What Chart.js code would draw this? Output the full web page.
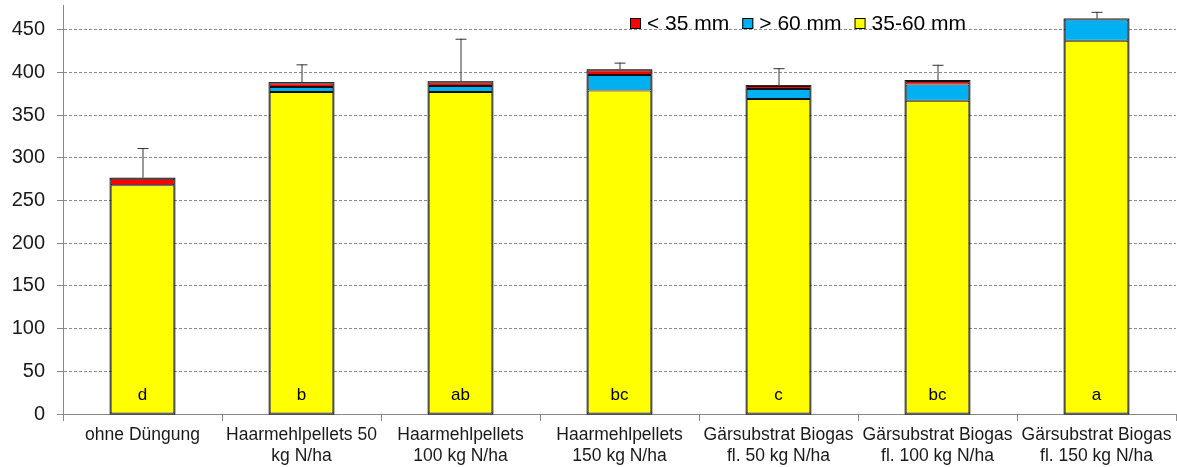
<!DOCTYPE html>
<html>
<head>
<meta charset="utf-8">
<script src="https://cdn.jsdelivr.net/npm/chart.js@4"></script>
<style>
  html, body { margin: 0; padding: 0; background: #fff; }
  #wrap { width: 1177px; height: 467px; position: relative; }
</style>
</head>
<body>
<div id="wrap"><canvas id="yieldChart"></canvas></div>
<script>
// categories (two-line labels)
const categories = [
  ['ohne Düngung'],
  ['Haarmehlpellets 50', 'kg N/ha'],
  ['Haarmehlpellets', '100 kg N/ha'],
  ['Haarmehlpellets', '150 kg N/ha'],
  ['Gärsubstrat Biogas', 'fl. 50 kg N/ha'],
  ['Gärsubstrat Biogas', 'fl. 100 kg N/ha'],
  ['Gärsubstrat Biogas', 'fl. 150 kg N/ha']
];
const mid35to60 = [268, 377, 377, 379, 369, 367, 437];
const over60 = [0, 6, 7, 18, 11.5, 19, 25];
const under35 = [7.5, 4.5, 4.5, 5.5, 3.5, 4, 0];
const errUp = [36, 22, 51, 9, 21, 19, 9];
const sigLetters = ['d', 'b', 'ab', 'bc', 'c', 'bc', 'a'];
const yTicks = [0, 50, 100, 150, 200, 250, 300, 350, 400, 450];

const FONT = "'Liberation Sans', Arial, sans-serif";

// outline of whole stack, error bars, letters inside bars
const extrasPlugin = {
  id: 'extras',
  afterDatasetsDraw(chart) {
    const ctx = chart.ctx;
    const y = chart.scales.y;
    const meta = chart.getDatasetMeta(0);
    ctx.save();
    meta.data.forEach((bar, i) => {
      const total = mid35to60[i] + over60[i] + under35[i];
      const yTop = y.getPixelForValue(total);
      const yZero = y.getPixelForValue(0);
      const half = bar.width / 2;

      ctx.strokeStyle = '#111';
      ctx.lineWidth = 1;
      ctx.strokeRect(bar.x - half - 0.5, yTop - 0.5, bar.width + 1, yZero - yTop + 0.5);

      const yErr = y.getPixelForValue(total + errUp[i]);
      ctx.strokeStyle = '#333';
      ctx.lineWidth = 1;
      ctx.beginPath();
      ctx.moveTo(bar.x + 0.5, yTop - 1);
      ctx.lineTo(bar.x + 0.5, yErr);
      ctx.moveTo(bar.x - 5, yErr + 0.5);
      ctx.lineTo(bar.x + 6, yErr + 0.5);
      ctx.stroke();

      ctx.fillStyle = '#000';
      ctx.font = '17px ' + FONT;
      ctx.textAlign = 'center';
      ctx.textBaseline = 'middle';
      ctx.fillText(sigLetters[i], bar.x, yZero - 19);
    });
    ctx.restore();
  }
};

// legend drawn inside the plot, top right
const legendPlugin = {
  id: 'innerLegend',
  afterDraw(chart) {
    const ctx = chart.ctx;
    const items = chart.data.datasets.slice().reverse();
    let x = chart.chartArea.left + 567;
    const yc = 24;
    ctx.save();
    ctx.font = '21px ' + FONT;
    ctx.textBaseline = 'middle';
    ctx.textAlign = 'left';
    items.forEach(ds => {
      ctx.fillStyle = ds.backgroundColor;
      ctx.fillRect(x, yc - 6, 11, 11);
      ctx.strokeStyle = '#000';
      ctx.lineWidth = 1;
      ctx.strokeRect(x + 0.5, yc - 5.5, 10, 10);
      x += 17;
      ctx.fillStyle = '#000';
      ctx.fillText(ds.label, x, yc);
      x += ctx.measureText(ds.label).width + 13;
    });
    ctx.restore();
  }
};

const barStyle = { borderColor: '#111', borderWidth: 1, borderSkipped: false, barPercentage: 0.4, categoryPercentage: 1 };

new Chart(document.getElementById('yieldChart'), {
  type: 'bar',
  data: {
    labels: categories,
    datasets: [
      Object.assign({ label: '35-60 mm', data: mid35to60, backgroundColor: '#FFFF00' }, barStyle),
      Object.assign({ label: '> 60 mm', data: over60, backgroundColor: '#00B0F0' }, barStyle),
      Object.assign({ label: '< 35 mm', data: under35, backgroundColor: '#FF0000' }, barStyle)
    ]
  },
  options: {
    responsive: true,
    maintainAspectRatio: false,
    animation: false,
    layout: { padding: { top: 5, right: 1, left: 0, bottom: 0 } },
    plugins: {
      legend: { display: false },
      tooltip: { enabled: false }
    },
    scales: {
      x: {
        stacked: true,
        grid: { drawOnChartArea: false, offset: true, tickLength: 7, color: '#888' },
        border: { color: '#888', width: 1 },
        ticks: {
          color: '#1a1a1a',
          font: { family: FONT, size: 17.5 },
          maxRotation: 0, minRotation: 0, autoSkip: false, padding: 4
        },
        afterFit(scale) {
          scale.height = 53;
          scale.paddingLeft = 0;
          scale.paddingRight = 0;
        }
      },
      y: {
        stacked: true,
        min: 0,
        max: 479,
        afterBuildTicks(axis) { axis.ticks = yTicks.map(v => ({ value: v })); },
        grid: {
          color: c => (c.tick && c.tick.value === 0) ? 'rgba(0,0,0,0)' : '#8c8c8c',
          tickColor: '#888',
          tickLength: 6,
          tickBorderDash: [],
          lineWidth: 1
        },
        border: { color: '#888', width: 1, dash: [3, 2] },
        ticks: {
          color: '#1a1a1a',
          font: { family: FONT, size: 20 },
          padding: 12
        },
        afterFit(scale) {
          scale.width = 63;
          scale.paddingTop = 0;
          scale.paddingBottom = 0;
        }
      }
    }
  },
  plugins: [extrasPlugin, legendPlugin]
});
</script>
</body>
</html>
